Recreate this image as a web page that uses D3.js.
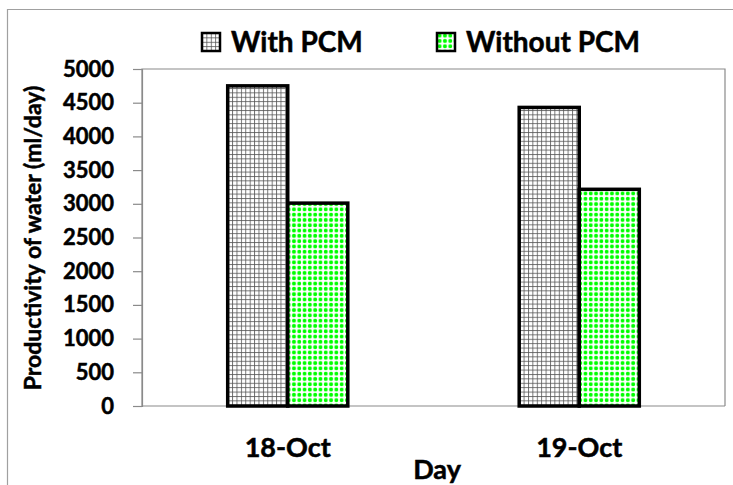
<!DOCTYPE html>
<html>
<head>
<meta charset="utf-8">
<script src="https://cdn.jsdelivr.net/npm/d3@7"></script>
<style>
  body { margin: 0; background: #fff; }
  svg { font-family: Lato, "Open Sans", sans-serif; font-weight: bold; }
  .heavy { stroke: black; stroke-width: 0.5px; }
</style>
</head>
<body>
<div id="viz-container"></div>
<script>
// data
let days = ["18-Oct", "19-Oct"];
let seriesNames = ["With PCM", "Without PCM"];
let withPCM = [4750, 4430];
let withoutPCM = [3010, 3215];
let yTicks = [0, 500, 1000, 1500, 2000, 2500, 3000, 3500, 4000, 4500, 5000];

let W = 733, H = 485;
let plotLeft = 142, plotRight = 725, plotTop = 69, plotBottom = 406;

let viz = d3.select("#viz-container")
              .append("svg")
                .attr("width", W)
                .attr("height", H);

// patterns for the two series
let defs = viz.append("defs");
let grid = defs.append("pattern")
    .attr("id", "grid").attr("patternUnits", "userSpaceOnUse")
    .attr("width", 4.4).attr("height", 4.4);
grid.append("rect").attr("width", 4.4).attr("height", 4.4).attr("fill", "white");
grid.append("path").attr("d", "M0,0.5H4.4M0.5,0V4.4")
    .attr("stroke", "#555").attr("stroke-width", 0.8);

let dots = defs.append("pattern")
    .attr("id", "dots").attr("patternUnits", "userSpaceOnUse")
    .attr("width", 5.3).attr("height", 5.3);
dots.append("rect").attr("width", 5.3).attr("height", 5.3).attr("fill", "white");
dots.append("circle").attr("cx", 2.65).attr("cy", 2.65).attr("r", 2).attr("fill", "#00ff00");

let fills = ["url(#grid)", "url(#dots)"];

// outer frame (only top and left visible)
viz.append("path")
    .attr("d", "M7.5," + H + "V9.5H" + W)
    .attr("fill", "none").attr("stroke", "#a0a0a0").attr("stroke-width", 1.2);

// scales
let x0 = d3.scaleBand().domain(days).range([plotLeft, plotRight]).paddingInner(0.588).paddingOuter(0.294);
let x1 = d3.scaleBand().domain(seriesNames).range([0, x0.bandwidth()]);
let y = d3.scaleLinear().domain([0, 5000]).range([plotBottom, plotTop]);

// plot border
viz.append("path")
    .attr("d", "M" + plotLeft + "," + plotBottom + "V" + plotTop + "H" + plotRight + "V" + plotBottom)
    .attr("fill", "none").attr("stroke", "#8a8a8a").attr("stroke-width", 1.2);

// y axis
let yAxis = viz.append("g")
    .attr("transform", "translate(" + plotLeft + ",0)")
    .call(d3.axisLeft(y).tickValues(yTicks).tickFormat(d3.format("d")).tickSize(9).tickPadding(19));
yAxis.select(".domain").attr("stroke", "#8a8a8a").attr("stroke-width", 1.2);
yAxis.selectAll(".tick line").attr("stroke", "#8a8a8a").attr("stroke-width", 1.2);
yAxis.selectAll("text")
    .attr("class", "heavy")
    .attr("font-family", "Lato, sans-serif").attr("font-weight", "bold")
    .attr("font-size", 22).attr("fill", "black");

// x axis line
viz.append("line")
    .attr("x1", plotLeft).attr("x2", plotRight).attr("y1", plotBottom).attr("y2", plotBottom)
    .attr("stroke", "#8a8a8a").attr("stroke-width", 1.2);

// bars
let rows = days.map(function(d, i){
    return { day: d, values: [withPCM[i], withoutPCM[i]] };
});

let groups = viz.selectAll("g.day").data(rows).enter().append("g")
    .attr("class", "day")
    .attr("transform", function(d){ return "translate(" + x0(d.day) + ",0)"; });

groups.selectAll("rect").data(function(d){ return d.values; }).enter().append("rect")
    .attr("x", function(v, i){ return x1(seriesNames[i]); })
    .attr("y", function(v){ return y(v); })
    .attr("width", x1.bandwidth())
    .attr("height", function(v){ return plotBottom - y(v); })
    .attr("fill", function(v, i){ return fills[i]; })
    .attr("stroke", "black")
    .attr("stroke-width", 3.5);

// category labels
viz.selectAll("text.cat").data(days).enter().append("text")
    .attr("class", "cat heavy")
    .attr("x", function(d){ return x0(d) + x0.bandwidth() / 2; })
    .attr("y", 457)
    .attr("text-anchor", "middle")
    .attr("font-size", 27)
    .text(function(d){ return d; });

// axis titles
viz.append("text")
    .attr("class", "heavy")
    .attr("x", 437).attr("y", 479)
    .attr("text-anchor", "middle")
    .attr("font-size", 27)
    .text("Day");

viz.append("text")
    .attr("class", "heavy")
    .attr("transform", "translate(41,238) rotate(-90)")
    .attr("text-anchor", "middle")
    .attr("font-size", 23)
    .text("Productivity of water (ml/day)");

// legend
let legendX = [202, 437];
let legend = viz.selectAll("g.legend").data(seriesNames).enter().append("g")
    .attr("class", "legend")
    .attr("transform", function(d, i){ return "translate(" + legendX[i] + ",33)"; });

legend.append("rect")
    .attr("width", 18).attr("height", 18)
    .attr("fill", function(d, i){ return fills[i]; })
    .attr("stroke", "black").attr("stroke-width", 2.5);

legend.append("text")
    .attr("class", "heavy")
    .attr("x", 29).attr("y", 19)
    .attr("font-size", 28)
    .text(function(d){ return d; });
</script>
</body>
</html>
